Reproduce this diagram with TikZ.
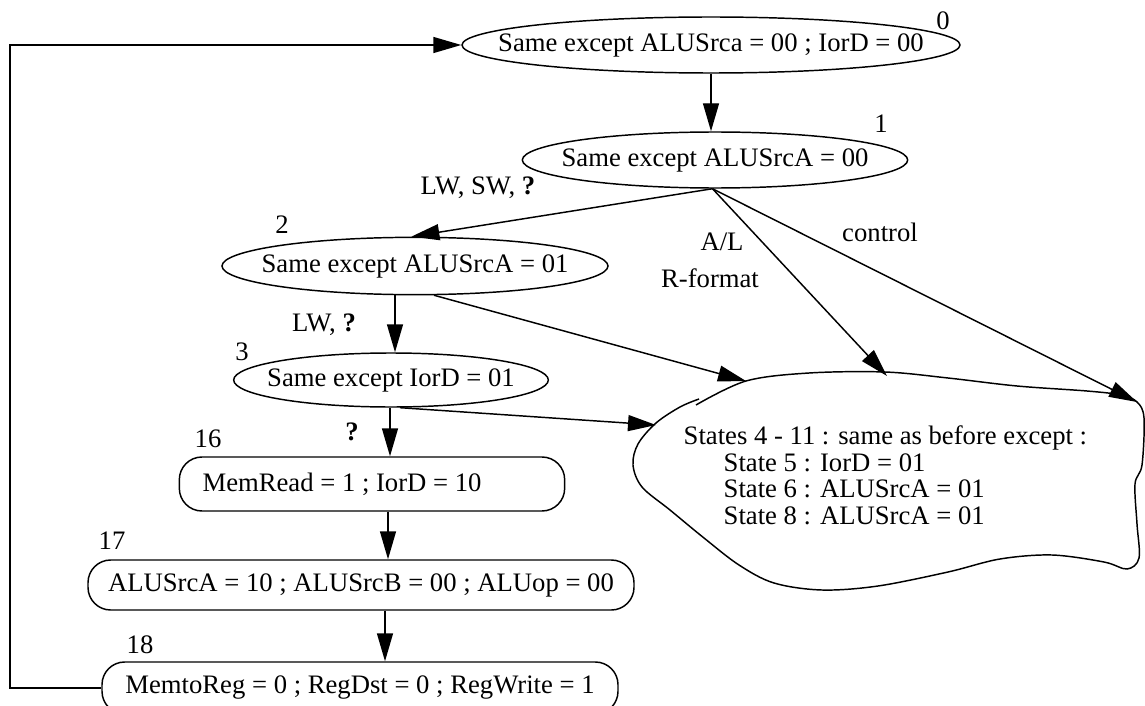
\documentclass[tikz,border=0pt]{standalone}
\usepackage{fontspec}
\setmainfont{Liberation Serif}
\usetikzlibrary{shapes.geometric,arrows.meta}

\tikzset{every picture/.style={line width=1.1pt}}
\tikzset{
  txt/.style={font=\fontsize{20}{20}\selectfont, inner sep=0pt},
  stateoval/.style={draw, ellipse, inner sep=0pt},
  staterect/.style={txt, draw, rectangle, rounded corners=17pt},
  flow/.style={-{Triangle[length=21pt,width=12pt]}},
}

\begin{document}
\begin{tikzpicture}[x=0.75pt,y=0.75pt,yscale=-1,xscale=1]
\useasboundingbox (0,0) rectangle (1145,706);

%Shape: Ellipse [id:s0]
\node [stateoval, minimum width=373.5pt, minimum height=42pt, label={[txt,name=t0]center:Same except ALUSrca = 00 ; IorD = 00}] (s0) at (711,45) {};
%Shape: Ellipse [id:s1]
\node [stateoval, minimum width=289pt, minimum height=42pt, label={[txt,name=t1]center:Same except ALUSrcA = 00}] (s1) at (715,160) {};
%Shape: Ellipse [id:s2]
\node [stateoval, minimum width=289.5pt, minimum height=43pt, label={[txt,name=t2]center:Same except ALUSrcA = 01}] (s2) at (415,266) {};
%Shape: Ellipse [id:s3]
\node [stateoval, minimum width=236pt, minimum height=40.5pt, label={[txt,name=t3]center:Same except IorD = 01}] (s3) at (391,380) {};
%Shape: Rounded Rect [id:s16]
\node [staterect, minimum width=289pt, minimum height=40.5pt] (s16) at (372,484) {MemRead = 1 ; IorD = 10\hspace*{45pt}};
%Shape: Rounded Rect [id:s17]
\node [staterect, minimum width=409.5pt, minimum height=37.5pt] (s17) at (361,585) {ALUSrcA = 10 ; ALUSrcB = 00 ; ALUop = 00};
%Shape: Rounded Rect [id:s18]
\node [staterect, minimum width=387pt, minimum height=39pt] (s18) at (360,688) {MemtoReg = 0 ; RegDst = 0 ; RegWrite = 1};

%Shape: Cloud
\draw plot [smooth, tension=0.55] coordinates {(696,405) (746,381) (809,373) (885,372) (948,378) (1017,386) (1087,391) (1121,395) (1137,402) (1144,418) (1142,465) (1135,484) (1137,524) (1139,558) (1127,569) (1104,562) (1052,555) (1000,559) (948,572) (878,586) (822,590) (774,583) (739,565) (704,538) (670,510) (642,487) (633,465) (638,444) (656,423) (680,407) (699,399)};
\coordinate (c2) at (746,381);
\coordinate (c3) at (656,425);
\coordinate (cal) at (887,376);
\coordinate (cctl) at (1137,402);
\node [txt, align=left, anchor=north west] (cloudtxt) at (683,425) {States 4 - 11 : same as before except :\\
\hspace*{30pt}State 5 : IorD = 01\\
\hspace*{30pt}State 6 : ALUSrcA = 01\\
\hspace*{30pt}State 8 : ALUSrcA = 01};

%Straight Lines
\draw [flow] (s0.south -| 711,0) -- (s1.north -| 711,0);
\draw [flow] (s1.-95) -- (s2.97);
\draw [flow] (s1.-95) -- (cal);
\draw [flow] (s1.-95) -- (cctl);
\draw [flow] (s2.-57) -- (c2);
\draw [flow] (s2.south -| 395,0) -- (s3.north -| 395,0);
\draw [flow] (s3.-72) -- (c3);
\draw [flow] (s3.south -| 390,0) -- (s16.north -| 390,0);
\draw [flow] (s16.south -| 388,0) -- (s17.north -| 388,0);
\draw [flow] (s17.south -| 385,0) -- (s18.north -| 385,0);
%Elbow Line
\coordinate (back) at (10,45);
\draw [flow] (s18.west) -| (back) -- (s0.west);

%Labels
\node [txt] (n0) at (943,21) {0};
\node [txt] (n1) at (881,124) {1};
\node [txt] (n2) at (282,225) {2};
\node [txt] (n3) at (242,352) {3};
\node [txt] (n16) at (208,439) {16};
\node [txt] (n17) at (112,541) {17};
\node [txt] (n18) at (140,645) {18};
\node [txt] (lwsw) at (478,188) {LW, SW, \textbf{?}};
\node [txt] (al) at (722,242) {A/L};
\node [txt] (rfmt) at (710,278) {R-format};
\node [txt] (ctl) at (880,232) {control};
\node [txt] (lw) at (324,325) {LW, \textbf{?}};
\node [txt] (q) at (352,432) {\textbf{?}};
\end{tikzpicture}
\end{document}
